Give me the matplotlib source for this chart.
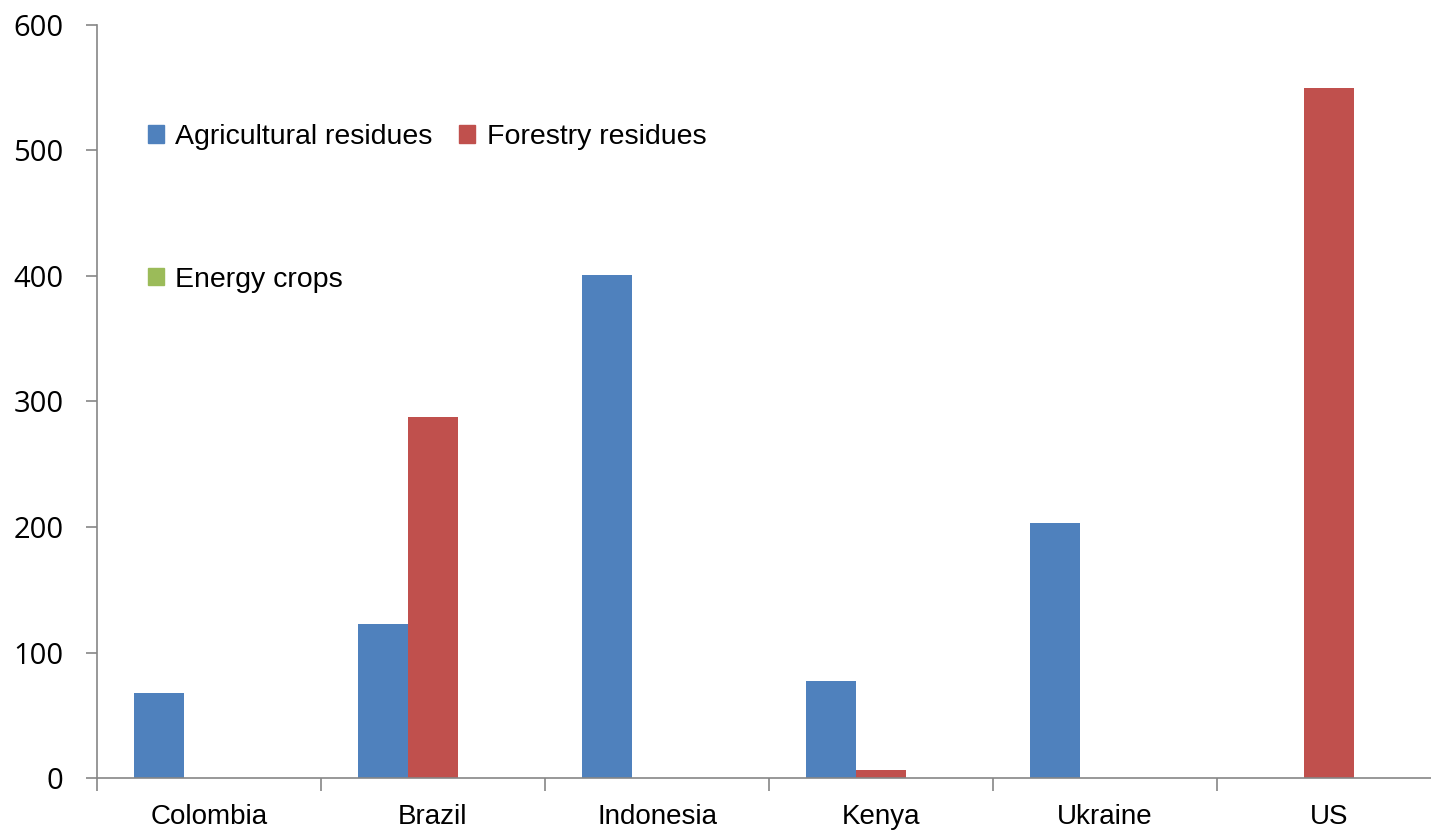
import numpy as np
import matplotlib
matplotlib.use("Agg")
import matplotlib.pyplot as plt
from matplotlib.patches import Patch

# data
countries = ["Colombia", "Brazil", "Indonesia", "Kenya", "Ukraine", "US"]
agricultural = [68, 123, 401, 77, 203, 0]
forestry = [0, 288, 0, 6, 0, 550]
energy = [0, 0, 0, 0, 0, 0]
series_names = ["Agricultural residues", "Forestry residues", "Energy crops"]
colors = ["#4F81BD", "#C0504D", "#9BBB59"]
yticks = [0, 100, 200, 300, 400, 500, 600]

W, H = 1431, 833
fig = plt.figure(figsize=(W / 100, H / 100), dpi=100)
ax = fig.add_axes([97 / W, (H - 778) / H, (W - 97) / W, (778 - 25) / H])

x = np.arange(len(countries))
w = 0.223
for i, vals in enumerate([agricultural, forestry, energy]):
    ax.bar(x + (i - 1) * w, vals, width=w, color=colors[i], label=series_names[i])

ax.set_yticks(yticks)
ax.set_yticklabels([str(t) for t in yticks], fontfamily="Open Sans", fontsize=21)
ax.set_xticks(x)
ax.set_xticklabels(countries, fontfamily="Liberation Sans", fontsize=20)
ax.set_xticks(np.arange(-0.5, len(countries), 1), minor=True)
# limits after the ticks, the plot is cut off before the last category boundary
ax.set_ylim(0, 600)
ax.set_xlim(-0.5, -0.5 + (W - 97) / 224)

axis_gray = "#868686"
for s in ["top", "right"]:
    ax.spines[s].set_visible(False)
for s in ["left", "bottom"]:
    ax.spines[s].set_color(axis_gray)
    ax.spines[s].set_linewidth(1.2)

ax.tick_params(axis="y", direction="out", length=8, width=1.2, color=axis_gray, pad=16)
ax.tick_params(axis="x", which="major", length=0, pad=19)
ax.tick_params(axis="x", which="minor", direction="out", length=9, width=1.2, color=axis_gray)

# legend: two entries on the first row, energy crops alone below
handles = [Patch(color=colors[0]), Patch(color=colors[2]), Patch(color=colors[1])]
labels = [series_names[0], series_names[2], series_names[1]]
leg = ax.legend(handles, labels, ncol=2, loc="upper left",
                bbox_to_anchor=(51 / (W - 97), 1 - 99 / (778 - 25)),
                frameon=False, prop={"family": "Liberation Sans", "size": 20.5},
                handlelength=0.55, handleheight=0.55, handletextpad=0.4,
                labelspacing=4.1, columnspacing=0.95, borderaxespad=0, borderpad=0)

fig.savefig("out.png", dpi=100)
